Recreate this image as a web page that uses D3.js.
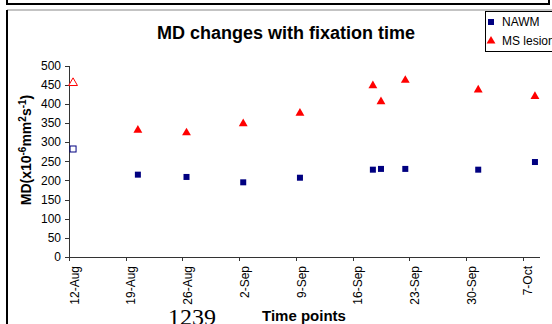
<!DOCTYPE html>
<html>
<head>
<meta charset="utf-8">
<script src="https://cdn.jsdelivr.net/npm/d3@7"></script>
<style>
  body { margin: 0; background: #fff; }
  svg { display: block; font-family: "Liberation Sans", Arial, sans-serif; }
  .axis path, .axis line { stroke: #333; shape-rendering: crispEdges; }
  .axis text { font-size: 12px; fill: #000; font-family: "Liberation Sans", Arial, sans-serif; }
</style>
</head>
<body>
<script>
// dates of the scans, and measured MD per region
var dates = ["2007-08-12", "2007-08-20", "2007-08-26", "2007-09-02", "2007-09-09",
             "2007-09-18", "2007-09-19", "2007-09-22", "2007-10-01", "2007-10-08"];
var nawm = [282, 215, 209, 195, 207, 228, 230, 230, 228, 248];
var lesion = [457, 334, 327, 351, 378, 450, 408, 464, 439, 422];
var tickDates = ["2007-08-12", "2007-08-19", "2007-08-26", "2007-09-02", "2007-09-09",
                 "2007-09-16", "2007-09-23", "2007-09-30", "2007-10-07"];
var yTicks = [0, 50, 100, 150, 200, 250, 300, 350, 400, 450, 500];

var width = 552, height = 324;
var parse = d3.timeParse("%Y-%m-%d");
var fmt = d3.timeFormat("%-d-%b");

var x = d3.scaleTime()
  .domain([parse("2007-08-12"), parse("2007-10-09")])
  .range([69, 539]);

var y = d3.scaleLinear()
  .domain([0, 500])
  .range([257, 65.5]);

// Excel puts each date in the middle of its day slot
function xp(d) { return x(d3.timeHour.offset(parse(d), 12)); }

var svg = d3.select("body").append("svg")
    .attr("width", width)
    .attr("height", height);

svg.append("rect").attr("width", width).attr("height", height).attr("fill", "#fff");

// frames
svg.append("path")
  .attr("d", "M7,0V4H549V0")
  .attr("fill", "none").attr("stroke", "#000").attr("stroke-width", 2);
svg.append("path")
  .attr("d", "M7,324V10H552")
  .attr("fill", "none").attr("stroke", "#888").attr("stroke-width", 1);
svg.append("line")
  .attr("x1", 7).attr("x2", 7).attr("y1", 10).attr("y2", 324)
  .attr("stroke", "#000").attr("stroke-width", 2);

svg.append("text")
  .attr("x", 286).attr("y", 39)
  .attr("text-anchor", "middle")
  .attr("font-size", 18).attr("font-weight", "bold")
  .text("MD changes with fixation time");

// y axis
svg.append("g")
  .attr("class", "axis")
  .attr("transform", "translate(69,0)")
  .call(d3.axisLeft(y).tickValues(yTicks).tickSize(4).tickSizeOuter(0).tickPadding(4));

// x axis
var xg = svg.append("g")
  .attr("class", "axis")
  .attr("transform", "translate(0,257)")
  .call(d3.axisBottom(x).tickValues(tickDates.map(parse)).tickSize(4).tickSizeOuter(0).tickFormat(fmt));

xg.selectAll(".tick text")
  .attr("transform", "translate(5,0) rotate(-90)")
  .attr("text-anchor", "end")
  .attr("x", -9)
  .attr("y", 0)
  .attr("dy", "0.35em");

// axis titles
var yt = svg.append("text")
  .attr("transform", "translate(31,150) rotate(-90)")
  .attr("text-anchor", "middle")
  .attr("font-size", 14).attr("font-weight", "bold");
yt.append("tspan").text("MD(x10");
yt.append("tspan").attr("dy", -5).attr("font-size", 10).text("-6");
yt.append("tspan").attr("dy", 5).text("mm");
yt.append("tspan").attr("dy", -5).attr("font-size", 10).text("2");
yt.append("tspan").attr("dy", 5).text("s");
yt.append("tspan").attr("dy", -5).attr("font-size", 10).text("-1");
yt.append("tspan").attr("dy", 5).text(")");

svg.append("text")
  .attr("x", 304).attr("y", 321)
  .attr("text-anchor", "middle")
  .attr("font-size", 15).attr("font-weight", "bold")
  .text("Time points");

svg.append("text")
  .attr("x", 168).attr("y", 325)
  .attr("font-family", "'Liberation Serif', 'Times New Roman', serif")
  .attr("font-size", 24)
  .text("1239");

// markers
var tri = d3.symbol().type(d3.symbolTriangle).size(34);

svg.selectAll(".nawm")
  .data(nawm)
  .enter().append("rect")
    .attr("class", "nawm")
    .attr("x", function(d, i) { return xp(dates[i]) - 3; })
    .attr("y", function(d) { return y(d) - 3; })
    .attr("width", 6)
    .attr("height", 6)
    .attr("fill", function(d, i) { return i == 0 ? "#fff" : "#000080"; })
    .attr("stroke", "#000080")
    .attr("stroke-width", function(d, i) { return i == 0 ? 1 : 0; });

svg.selectAll(".lesion")
  .data(lesion)
  .enter().append("path")
    .attr("class", "lesion")
    .attr("d", tri)
    .attr("transform", function(d, i) { return "translate(" + xp(dates[i]) + "," + (y(d) + 1) + ")"; })
    .attr("fill", function(d, i) { return i == 0 ? "#fff" : "#ff0000"; })
    .attr("stroke", "#ff0000")
    .attr("stroke-width", function(d, i) { return i == 0 ? 1 : 0; });

// legend
var lg = svg.append("g");
lg.append("rect")
  .attr("x", 485.5).attr("y", 11.5).attr("width", 80).attr("height", 40)
  .attr("fill", "#fff").attr("stroke", "#000");
lg.append("rect")
  .attr("x", 488).attr("y", 19).attr("width", 6).attr("height", 6)
  .attr("fill", "#000080");
lg.append("path")
  .attr("d", tri)
  .attr("transform", "translate(491,41)")
  .attr("fill", "#ff0000");
lg.append("text").attr("x", 502).attr("y", 26).attr("font-size", 12).text("NAWM");
lg.append("text").attr("x", 502).attr("y", 45).attr("font-size", 12).text("MS lesion");
</script>
</body>
</html>
